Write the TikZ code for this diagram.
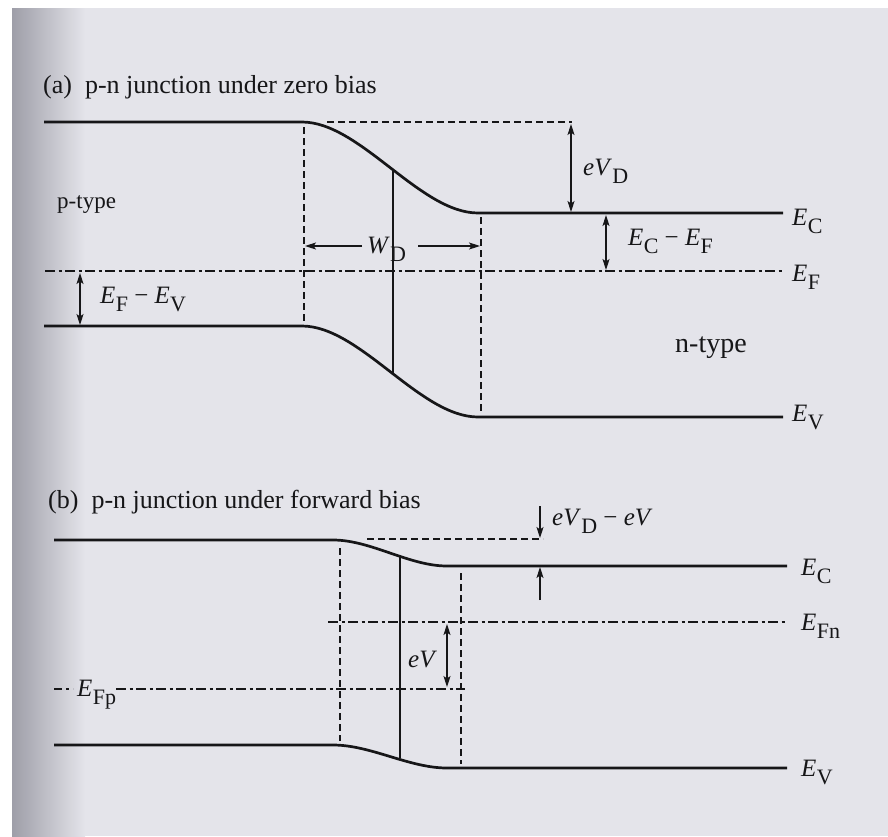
\documentclass[tikz,border=0pt]{standalone}
\usepackage{fontspec}
\setmainfont{Liberation Serif}
\usetikzlibrary{arrows.meta}
\definecolor{bg}{RGB}{228,228,234}
\definecolor{edge}{RGB}{158,158,168}
\definecolor{ink}{RGB}{22,22,24}
\newcommand\EL[2]{\textit{#1}\kern0.3pt\raisebox{-8pt}{\fontsize{22}{22}\selectfont #2}}
\begin{document}
\begin{tikzpicture}[x=1pt,y=-1pt,
  band/.style={draw=ink,line width=2.7pt},
  dsh/.style={draw=ink,line width=1.3pt,dash pattern=on 7pt off 4pt},
  dd/.style={draw=ink,line width=1.6pt,dash pattern=on 10pt off 3.5pt on 3pt off 3.5pt},
  jn/.style={draw=ink,line width=1.4pt},
  tip/.style={Stealth[length=11pt,width=7pt,inset=2.5pt]},
  arr/.style={draw=ink,line width=1.1pt,-{Stealth[length=11pt,width=7pt,inset=2.5pt]}},
  darr/.style={draw=ink,line width=1.1pt,{Stealth[length=11pt,width=7pt,inset=2.5pt]}-{Stealth[length=11pt,width=7pt,inset=2.5pt]}},
  lbl/.style={text=ink,font=\fontsize{25}{25}\selectfont,inner sep=0pt,anchor=base west},
  ttl/.style={text=ink,font=\fontsize{26}{26}\selectfont,inner sep=0pt,anchor=base west}]
\useasboundingbox (0,0) rectangle (888,836);
\fill[white] (0,0) rectangle (888,836);
\fill[bg] (12,8) rectangle (888,836);
\shade[left color=edge,right color=bg] (12,8) rectangle (85,836);

% ---------------- panel (a)
\node[ttl] (ta) at (43,93) {(a)\ \ p-n junction under zero bias};
\coordinate (aCp) at (44,122); \coordinate (aCb) at (302,122);
\coordinate (aCe) at (478,213); \coordinate (aCn) at (783,213);
\coordinate (aVp) at (44,326); \coordinate (aVb) at (302,326);
\coordinate (aVe) at (478,417); \coordinate (aVn) at (783,417);
\draw[band] (aCp) -- (aCb) .. controls (360,122) and (420,213) .. (aCe) -- (aCn);
\draw[band] (aVp) -- (aVb) .. controls (360,326) and (420,417) .. (aVe) -- (aVn);
\coordinate (aFl) at (45,271); \coordinate (aFr) at (783,271);
\draw[dd] (aFl) -- (aFr);
\coordinate (aJt) at (393,170); \coordinate (aJb) at (393,374);
\draw[jn] (aJt) -- (aJb);
\coordinate (aL1) at (304,127); \coordinate (aL2) at (304,324);
\draw[dsh] (aL1) -- (aL2);
\coordinate (aR1) at (481,217); \coordinate (aR2) at (481,414);
\draw[dsh] (aR1) -- (aR2);
\coordinate (aT1) at (327,122); \coordinate (aT2) at (572,122);
\draw[dsh] (aT1) -- (aT2);
\coordinate (aD1) at (571,124); \coordinate (aD2) at (571,212);
\draw[darr] (aD1) -- (aD2);
\node[lbl] (eVD) at (583,175) {\EL{eV}{D}};
\node[lbl] (WD) at (367,253) {\EL{W}{D}};
\coordinate (aW1) at (305,246); \coordinate (aW2) at (480,246);
\coordinate (aW0) at (362,246); \coordinate (aW3) at (418,246);
\draw[arr] (aW0) -- (aW1);
\draw[arr] (aW3) -- (aW2);
\coordinate (aFV1) at (80,273); \coordinate (aFV2) at (80,325);
\draw[darr] (aFV1) -- (aFV2);
\node[lbl] (FV) at (100,303) {\EL{E}{F} − \EL{E}{V}};
\coordinate (aCF1) at (606,215); \coordinate (aCF2) at (606,270);
\draw[darr] (aCF1) -- (aCF2);
\node[lbl] (CF) at (628,245) {\EL{E}{C} − \EL{E}{F}};
\node[lbl] (aEC) at (792,225) {\EL{E}{C}};
\node[lbl] (aEF) at (792,281) {\EL{E}{F}};
\node[lbl] (aEV) at (792,421) {\EL{E}{V}};
\node[text=ink,font=\fontsize{23}{23}\selectfont,inner sep=0pt,anchor=base west] (pt) at (57,208) {p-type};
\node[text=ink,font=\fontsize{28}{28}\selectfont,inner sep=0pt,anchor=base west] (nt) at (675,352) {n-type};

% ---------------- panel (b)
\node[ttl] (tb) at (48,508) {(b)\ \ p-n junction under forward bias};
\coordinate (bCp) at (54,540); \coordinate (bCb) at (333,540);
\coordinate (bCe) at (447,566); \coordinate (bCn) at (787,566);
\coordinate (bVp) at (54,745); \coordinate (bVb) at (333,745);
\coordinate (bVe) at (447,768); \coordinate (bVn) at (787,768);
\draw[band] (bCp) -- (bCb) .. controls (371,540) and (409,566) .. (bCe) -- (bCn);
\draw[band] (bVp) -- (bVb) .. controls (371,745) and (409,768) .. (bVe) -- (bVn);
\coordinate (bJt) at (400,555); \coordinate (bJb) at (400,758);
\draw[jn] (bJt) -- (bJb);
\coordinate (bL1) at (340,548); \coordinate (bL2) at (340,741);
\draw[dsh] (bL1) -- (bL2);
\coordinate (bR1) at (461,573); \coordinate (bR2) at (461,764);
\draw[dsh] (bR1) -- (bR2);
\coordinate (bT1) at (367,539); \coordinate (bT2) at (543,539);
\draw[dsh] (bT1) -- (bT2);
\coordinate (bA1) at (540,506); \coordinate (bA2) at (540,538);
\draw[arr] (bA1) -- (bA2);
\coordinate (bB1) at (540,600); \coordinate (bB2) at (540,567);
\draw[arr] (bB1) -- (bB2);
\node[lbl] (eVDeV) at (552,525) {\EL{eV}{D} − \textit{eV}};
\coordinate (bFn1) at (328,622); \coordinate (bFn2) at (787,622);
\draw[dd] (bFn1) -- (bFn2);
\coordinate (bFp0) at (54,689); \coordinate (bFp1) at (73,689);
\coordinate (bFp2) at (116,689); \coordinate (bFp3) at (465,689);
\draw[dd,dash pattern=on 8pt off 4pt on 3pt off 4pt] (bFp0) -- (bFp1);
\draw[dd] (bFp2) -- (bFp3);
\coordinate (bE1) at (447,624); \coordinate (bE2) at (447,687);
\draw[darr] (bE1) -- (bE2);
\node[lbl] (eV) at (408,667) {\textit{eV}};
\node[lbl] (Fp) at (77,696) {\EL{E}{Fp}};
\node[lbl] (bEC) at (801,575) {\EL{E}{C}};
\node[lbl] (bEFn) at (801,630) {\EL{E}{Fn}};
\node[lbl] (bEV) at (801,776) {\EL{E}{V}};
\end{tikzpicture}
\end{document}
